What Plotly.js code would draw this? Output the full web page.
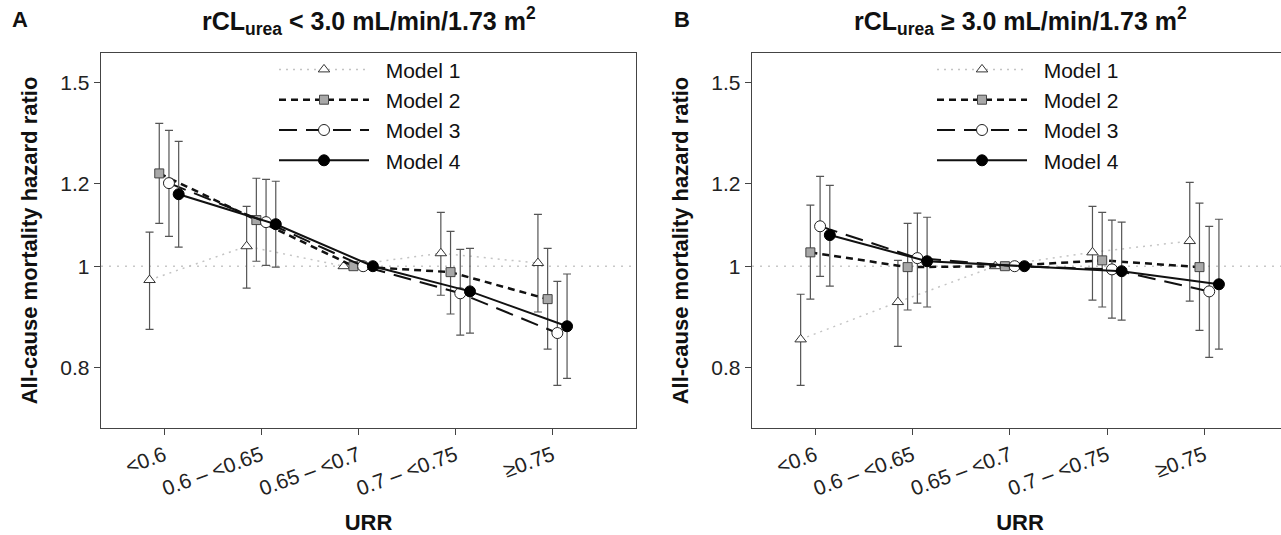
<!DOCTYPE html>
<html>
<head>
<meta charset="utf-8">
<script src="https://cdn.plot.ly/plotly-3.0.1.min.js"></script>
<style>
html,body{margin:0;padding:0;overflow:hidden;background:#fff;}
#chart{width:1300px;height:535px;}
</style>
</head>
<body>
<div id="chart"></div>
<script>
// ---- data ----
const categories = ["&lt;0.6", "0.6 – &lt;0.65", "0.65 – &lt;0.7", "0.7 – &lt;0.75", "≥0.75"];
const models = ["Model 1", "Model 2", "Model 3", "Model 4"];

// Panel A: rCLurea < 3.0
const A_m1 = [0.970, 1.045, 1.0, 1.029, 1.007];
const A_m1_lo = [0.870, 0.953, null, 0.938, 0.904];
const A_m1_hi = [1.078, 1.141, null, 1.126, 1.121];
const A_m2 = [1.227, 1.107, 1.0, 0.987, 0.930];
const A_m2_lo = [1.099, 1.011, null, 0.900, 0.833];
const A_m2_hi = [1.370, 1.214, null, 1.080, 1.040];
const A_m3 = [1.201, 1.102, 1.0, 0.942, 0.863];
const A_m3_lo = [1.068, 1.002, null, 0.859, 0.769];
const A_m3_hi = [1.349, 1.211, null, 1.038, 0.967];
const A_m4 = [1.172, 1.097, 1.0, 0.946, 0.876];
const A_m4_lo = [1.043, 0.998, null, 0.863, 0.781];
const A_m4_hi = [1.317, 1.206, null, 1.040, 0.983];

// Panel B: rCLurea >= 3.0
const B_m1 = [0.851, 0.924, 1.0, 1.031, 1.057];
const B_m1_lo = [0.769, 0.838, null, 0.928, 0.926];
const B_m1_hi = [0.940, 1.013, null, 1.141, 1.203];
const B_m2 = [1.031, 0.998, 1.0, 1.013, 0.998];
const B_m2_lo = [0.930, 0.908, null, 0.914, 0.868];
const B_m2_hi = [1.144, 1.099, null, 1.126, 1.149];
const B_m3 = [1.092, 1.018, 1.0, 0.993, 0.946];
const B_m3_lo = [0.978, 0.922, null, 0.892, 0.818];
const B_m3_hi = [1.219, 1.124, null, 1.107, 1.092];
const B_m4 = [1.071, 1.011, 1.0, 0.989, 0.961];
const B_m4_lo = [0.957, 0.914, null, 0.888, 0.833];
const B_m4_hi = [1.195, 1.114, null, 1.102, 1.109];

const yTicks = [0.8, 1, 1.2, 1.5];
const yTickText = ["0.8", "1", "1.2", "1.5"];

// ---- styles ----
const FONT = "Liberation Sans, Arial, Helvetica, sans-serif";
const offsets = [-0.15, -0.05, 0.05, 0.15];
const styles = [
  {line:{color:"#c4c4c4", width:1.5, dash:"2px,5px"},
   marker:{symbol:"triangle-up", size:10, color:"#fff", line:{color:"#333", width:1}}},
  {line:{color:"#111", width:2.5, dash:"7px,5px"},
   marker:{symbol:"square", size:9, color:"#a8a8a8", line:{color:"#444", width:1}}},
  {line:{color:"#111", width:2, dash:"18px,9px"},
   marker:{symbol:"circle", size:11, color:"#fff", line:{color:"#222", width:1}}},
  {line:{color:"#111", width:2},
   marker:{symbol:"circle", size:11, color:"#000", line:{color:"#000", width:1}}}
];

function mk(vals, lo, hi, k, xa, ya, leg) {
  const x = vals.map((v, i) => i + 1 + offsets[k]);
  return {
    type: "scatter", mode: "lines+markers",
    x: x, y: vals, xaxis: xa, yaxis: ya,
    name: "\u00a0\u00a0" + models[k], legend: leg,
    line: styles[k].line, marker: styles[k].marker,
    error_y: {type: "data", symmetric: false,
      array: vals.map((v, i) => hi[i] == null ? 0 : hi[i] - v),
      arrayminus: vals.map((v, i) => lo[i] == null ? 0 : v - lo[i]),
      color: "#555", thickness: 1.2, width: 4},
    hoverinfo: "skip"
  };
}

const A = [[A_m1,A_m1_lo,A_m1_hi],[A_m2,A_m2_lo,A_m2_hi],[A_m3,A_m3_lo,A_m3_hi],[A_m4,A_m4_lo,A_m4_hi]];
const B = [[B_m1,B_m1_lo,B_m1_hi],[B_m2,B_m2_lo,B_m2_hi],[B_m3,B_m3_lo,B_m3_hi],[B_m4,B_m4_lo,B_m4_hi]];
const traces = [];
A.forEach((d, k) => traces.push(mk(d[0], d[1], d[2], k, "x", "y", "legend")));
B.forEach((d, k) => traces.push(mk(d[0], d[1], d[2], k, "x2", "y2", "legend2")));

const W = 1300;
const xCommon = {
  range: [0.35, 5.86], tickvals: [1,2,3,4,5], ticktext: categories,
  tickangle: -20, ticks: "outside", ticklen: 6, tickcolor: "#444",
  showline: true, linecolor: "#444", linewidth: 1.3, mirror: true,
  showgrid: false, zeroline: false,
  tickfont: {family: FONT, size: 21, color: "#222"},
  title: {text: "<b>URR</b>", font: {family: FONT, size: 22, color: "#111"}, standoff: 16},
  automargin: false
};
const yCommon = {
  type: "log", range: [Math.log10(0.7), Math.log10(1.6)],
  tickvals: yTicks, ticktext: yTickText,
  ticks: "outside", ticklen: 6, tickcolor: "#444",
  showline: true, linecolor: "#444", linewidth: 1.3, mirror: true,
  showgrid: false, zeroline: false,
  tickfont: {family: FONT, size: 21, color: "#222"},
  title: {text: "<b>All-cause mortality hazard ratio</b>", font: {family: FONT, size: 22, color: "#111"}, standoff: 16},
  automargin: false
};

const legendCommon = {
  font: {family: FONT, size: 21, color: "#111"},
  bgcolor: "rgba(0,0,0,0)", borderwidth: 0,
  itemwidth: 90, tracegroupgap: 0, yanchor: "top", xanchor: "left",
  y: 1.01
};

const layout = {
  width: W, height: 535,
  margin: {l: 0, r: 0, t: 53, b: 107},
  paper_bgcolor: "#fff", plot_bgcolor: "#fff",
  showlegend: true,
  xaxis: Object.assign({}, xCommon, {domain: [101/W, 636/W], anchor: "y"}),
  yaxis: Object.assign({}, yCommon, {domain: [0, 1], anchor: "x"}),
  xaxis2: Object.assign({}, xCommon, {domain: [752/W, 1288/W], anchor: "y2"}),
  yaxis2: Object.assign({}, yCommon, {domain: [0, 1], anchor: "x2"}),
  legend: Object.assign({}, legendCommon, {x: 274/W}),
  legend2: Object.assign({}, legendCommon, {x: 932/W}),
  shapes: [
    {type: "line", xref: "x domain", yref: "y", x0: 0, x1: 1, y0: 1, y1: 1,
     line: {color: "#c8c8c8", width: 1.5, dash: "2px,6px"}, layer: "below"},
    {type: "line", xref: "x2 domain", yref: "y2", x0: 0, x1: 1, y0: 1, y1: 1,
     line: {color: "#c8c8c8", width: 1.5, dash: "2px,6px"}, layer: "below"}
  ],
  annotations: [
    {text: "<b>A</b>", xref: "paper", yref: "paper", x: 10/W, y: 1.09, xanchor: "left", yanchor: "middle",
     showarrow: false, font: {family: FONT, size: 22, color: "#111"}},
    {text: "<b>B</b>", xref: "paper", yref: "paper", x: 672/W, y: 1.09, xanchor: "left", yanchor: "middle",
     showarrow: false, font: {family: FONT, size: 22, color: "#111"}},
    {text: "<b>rCL<sub>urea</sub> &lt; 3.0 mL/min/1.73 m<sup>2</sup></b>", xref: "x domain", yref: "paper",
     x: 0.5, y: 1.085, xanchor: "center", yanchor: "middle", showarrow: false,
     font: {family: FONT, size: 25, color: "#111"}},
    {text: "<b>rCL<sub>urea</sub> ≥ 3.0 mL/min/1.73 m<sup>2</sup></b>", xref: "x2 domain", yref: "paper",
     x: 0.5, y: 1.085, xanchor: "center", yanchor: "middle", showarrow: false,
     font: {family: FONT, size: 25, color: "#111"}}
  ]
};

Plotly.newPlot("chart", traces, layout, {displayModeBar: false, staticPlot: true});
</script>
</body>
</html>
